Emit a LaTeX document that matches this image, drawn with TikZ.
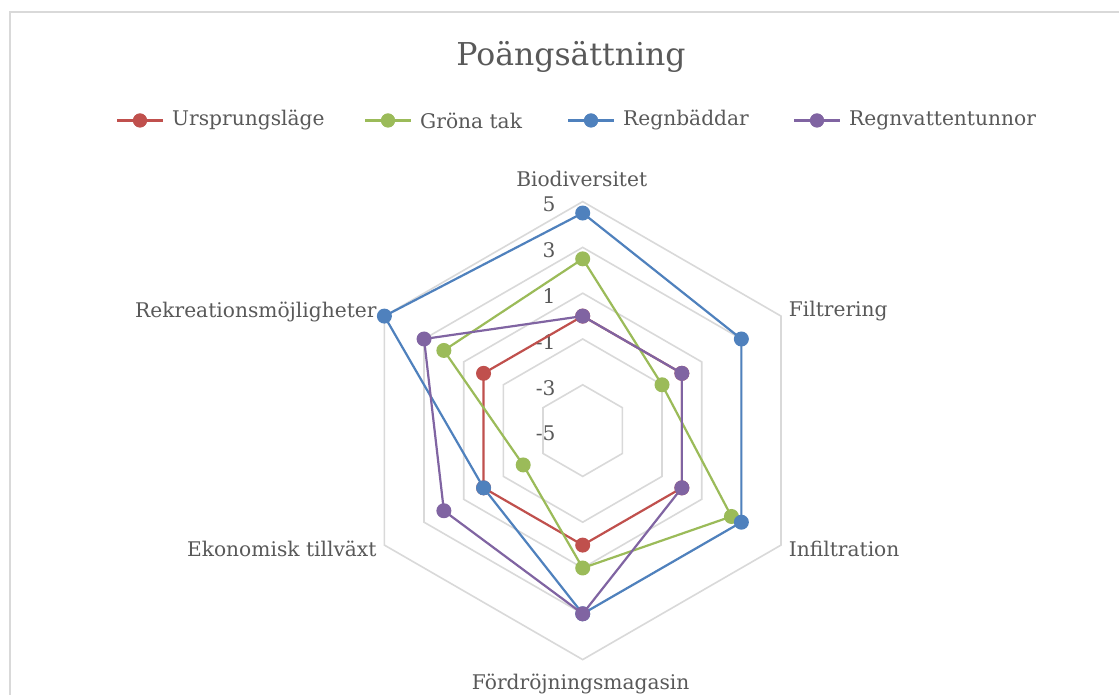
\documentclass[tikz,border=0pt]{standalone}
\usepackage{fontspec}
\setmainfont{DejaVu Serif}
\definecolor{ursp}{HTML}{C0504D}
\definecolor{grontak}{HTML}{9BBB59}
\definecolor{regnb}{HTML}{4F81BD}
\definecolor{tunnor}{HTML}{8064A2}
\definecolor{rutnat}{HTML}{D9D9D9}
\definecolor{textgra}{HTML}{595959}
\tikzset{
  rutlinje/.style={draw=rutnat, line width=1.6pt},
  serie/.style={line width=2.2pt, line join=round},
  prick/.style={circle, fill, inner sep=0pt, minimum size=15pt},
  etikett/.style={text=textgra, inner sep=0pt, font=\fontsize{20.2}{24}\selectfont},
}
\begin{document}
\begin{tikzpicture}[x=1pt, y=1pt]
  \useasboundingbox (0,0) rectangle (1119,695);
  \fill[white] (0,0) rectangle (1119,695);
  \draw[rutlinje] (10,0) -- (10,683) -- (1119,683);
  % rubrik
  \node[etikett, font=\fontsize{31.5}{36}\selectfont] (rubrik) at (571,638) {Poängsättning};
  % teckenförklaring
  \foreach \namn/\farg/\x/\text in {lu/ursp/140/Ursprungsläge, lg/grontak/388/Gröna tak,
      lr/regnb/591/Regnbäddar, lt/tunnor/817/Regnvattentunnor} {
    \node[prick, \farg, minimum size=14pt] (\namn) at (\x,574.5) {};
    \draw[serie, \farg] ([xshift=-23pt]\namn.center) -- ([xshift=23pt]\namn.center);
    \node[prick, \farg, minimum size=14pt] at (\namn) {};
    \node[etikett, anchor=west] (\namn-txt) at (\x+32,574.5) {\text};
  }
  \begin{scope}[shift={(582.7,264.4)}]
    % rutnät
    \foreach \r in {45.8,91.6,137.4,183.2,229}
      \draw[rutlinje] (90:\r) -- (30:\r) -- (-30:\r) -- (-90:\r) -- (-150:\r) -- (150:\r) -- cycle;
    \foreach \tal [count=\k from 0] in {-5,-3,-1,1,3,5}
      \node[etikett, anchor=east] (tick\k) at (-27,{45.8*\k-3}) {\tal};
    % axlar
    \node[etikett] (bio) at (-1,252) {Biodiversitet};
    \node[etikett, anchor=west] (filt) at (206,119.6) {Filtrering};
    \node[etikett, anchor=west] (infil) at (206,-118.4) {Infiltration};
    \node[etikett] (fordr) at (-2,-253.4) {Fördröjningsmagasin};
    \node[etikett, anchor=east] (ekon) at (-206,-118.4) {Ekonomisk tillväxt};
    \node[etikett, anchor=east] (rekr) at (-206,118.6) {Rekreationsmöjligheter};
    % serier
    \foreach \namn/\farg/\va/\vb/\vc/\vd/\ve/\vf in {u/ursp/0/0/0/0/0/0, g/grontak/2.5/-1/2.5/1/-2/2,
        r/regnb/4.5/3/3/3/0/5, t/tunnor/0/0/0/3/2/3} {
      \foreach \v [count=\i] in {\va,\vb,\vc,\vd,\ve,\vf}
        \coordinate (\namn\i) at ({150-60*\i}:{(\v+5)*22.9});
      \draw[serie, \farg] (\namn1) -- (\namn2) -- (\namn3) -- (\namn4) -- (\namn5) -- (\namn6) -- cycle;
      \foreach \i in {1,...,6}
        \node[prick, \farg] at (\namn\i) {};
    }
  \end{scope}
\end{tikzpicture}
\end{document}
